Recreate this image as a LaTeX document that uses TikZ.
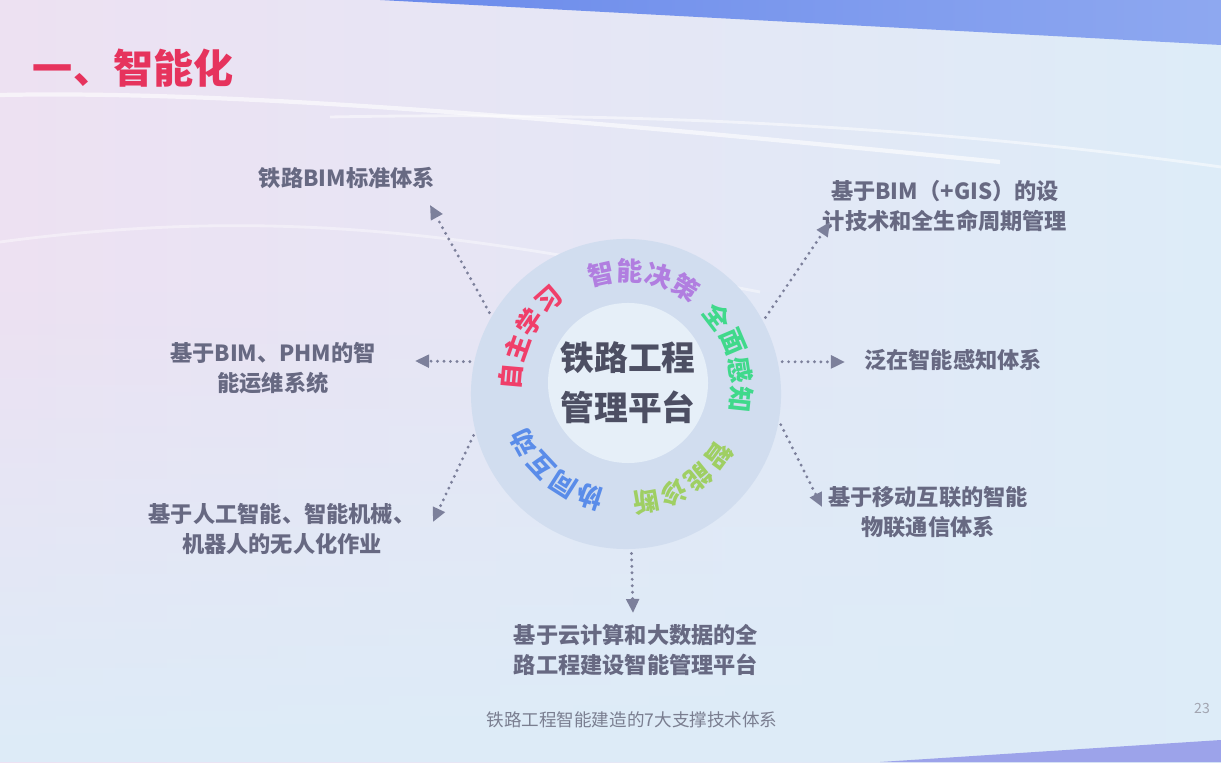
\documentclass[tikz,border=0pt]{standalone}
\usepackage{fontspec}
\newfontfamily\cjk{Noto Sans CJK SC}
\usetikzlibrary{arrows.meta,calc,fadings}

\definecolor{bgblue}{HTML}{DDECF8}
\definecolor{bgpink}{HTML}{EDE1F2}
\definecolor{bandblue}{HTML}{6A8AEB}
\definecolor{bandlight}{HTML}{8EA8F0}
\definecolor{footblue}{HTML}{9CA3EA}
\definecolor{ringblue}{HTML}{D1DDEF}
\definecolor{innerblue}{HTML}{E6EFF8}
\definecolor{titlered}{HTML}{E6335D}
\definecolor{lblgray}{HTML}{676982}
\definecolor{hubgray}{HTML}{4D4F63}
\definecolor{arrgray}{HTML}{7C809B}
\definecolor{capgray}{HTML}{7A7E90}
\definecolor{redw}{HTML}{F03F6A}
\definecolor{purw}{HTML}{B17EE0}
\definecolor{grnw}{HTML}{40D98B}
\definecolor{ygw}{HTML}{9FCF63}
\definecolor{bluw}{HTML}{5A8CE9}

\begin{document}
\begin{tikzpicture}[x=0.025cm,y=0.025cm,
  lbl/.style={font=\cjk\bfseries\fontsize{15.8}{21.3}\selectfont, text=lblgray, align=center},
  dots/.style={draw=arrgray, line width=2.3pt, line cap=round, dash pattern=on 0pt off 4.6pt,
    shorten <=3pt, -{Triangle[length=10pt,width=9pt]}},
  ringtxt/.style={font=\cjk\bfseries\fontsize{18.5}{18.5}\selectfont, inner sep=0pt}]
  \useasboundingbox (0,0) rectangle (1221,762);

  % slide background
  \shade[left color=bgpink, right color=bgblue] (0,0) rectangle (1221,762);
  \fill[bgblue, path fading=north] (0,0) rectangle (1221,470);
  \draw[white, line width=3pt, opacity=0.6] (0,667) .. controls (250,672) and (600,640) .. (1000,600);
  \draw[white, line width=2pt, opacity=0.5] (330,645) .. controls (600,650) and (900,640) .. (1221,595);
  \draw[white, line width=2pt, opacity=0.4] (0,520) .. controls (300,560) and (500,520) .. (760,470);
  \shade[left color=bandblue, right color=bandlight] (380,762) -- (1221,762) -- (1221,717) -- cycle;
  \fill[footblue] (880,0) -- (1221,22) -- (1221,0) -- cycle;

  \node[font=\cjk\bfseries\fontsize{28.5}{30}\selectfont, text=titlered, anchor=west] (title) at (28,694) {一、智能化};

  % ring
  \node[circle, fill=ringblue, minimum size=7.75cm, inner sep=0pt] (ring) at (626,368) {};
  \node[circle, fill=innerblue, minimum size=4cm, inner sep=0pt] (core) at (628,379) {};
  \node[font=\cjk\bfseries\fontsize{24}{35.5}\selectfont, text=hubgray, align=center] (hub) at (628,379) {铁路工程\\管理平台};
  \coordinate (mid) at (626,375);
  \foreach \c/\a/\col [count=\i] in {自/175/redw, 主/160.5/redw, 学/146/redw, 习/131.5/redw,
      智/102.5/purw, 能/88/purw, 决/73.5/purw, 策/59/purw,
      全/37.5/grnw, 面/23/grnw, 感/8.5/grnw, 知/-6/grnw,
      智/-36.5/ygw, 能/-51/ygw, 诊/-65.5/ygw, 断/-80/ygw,
      协/252/bluw, 同/237.5/bluw, 互/223/bluw, 动/208.5/bluw}
    \node[ringtxt, text=\col, rotate=\a-90] (rc\i) at ($(mid)+(\a:116)$) {\c};

  % outer labels
  \node[lbl] (bimstd) at (347,584) {铁路BIM标准体系};
  \node[lbl] (phm) at (273,394) {基于BIM、PHM的智\\能运维系统};
  \node[lbl] (robot) at (282,233) {基于人工智能、智能机械、\\机器人的无人化作业};
  \node[lbl] (cloud) at (636,112) {基于云计算和大数据的全\\路工程建设智能管理平台};
  \node[lbl] (iot) at (928,250) {基于移动互联的智能\\物联通信体系};
  \node[lbl] (sense) at (953,402) {泛在智能感知体系};
  \node[lbl] (gis) at (945,556) {基于BIM（+GIS）的设\\计技术和全生命周期管理};

  \coordinate (t-bimstd) at (430,557);
  \coordinate (t-phm) at (415,401);
  \coordinate (t-robot) at (433,240);
  \coordinate (t-cloud) at (633,149);
  \coordinate (t-iot) at (822,255);
  \coordinate (t-sense) at (845,400);
  \coordinate (t-gis) at (830,540);

  \draw[dots] (ring.150) -- (t-bimstd);
  \draw[dots] (ring.168) -- (t-phm);
  \draw[dots] (ring.194) -- (t-robot);
  \draw[dots] (ring.272) -- (t-cloud);
  \draw[dots] (ring.350) -- (t-iot);
  \draw[dots] (ring.12) -- (t-sense);
  \draw[dots] (ring.28) -- (t-gis);

  \node[font=\cjk\fontsize{12.5}{14}\selectfont, text=capgray] (caption) at (632,42) {铁路工程智能建造的7大支撑技术体系};
  \node[font=\cjk\fontsize{10}{12}\selectfont, text=capgray!70] (page) at (1202,54) {23};
\end{tikzpicture}
\end{document}
